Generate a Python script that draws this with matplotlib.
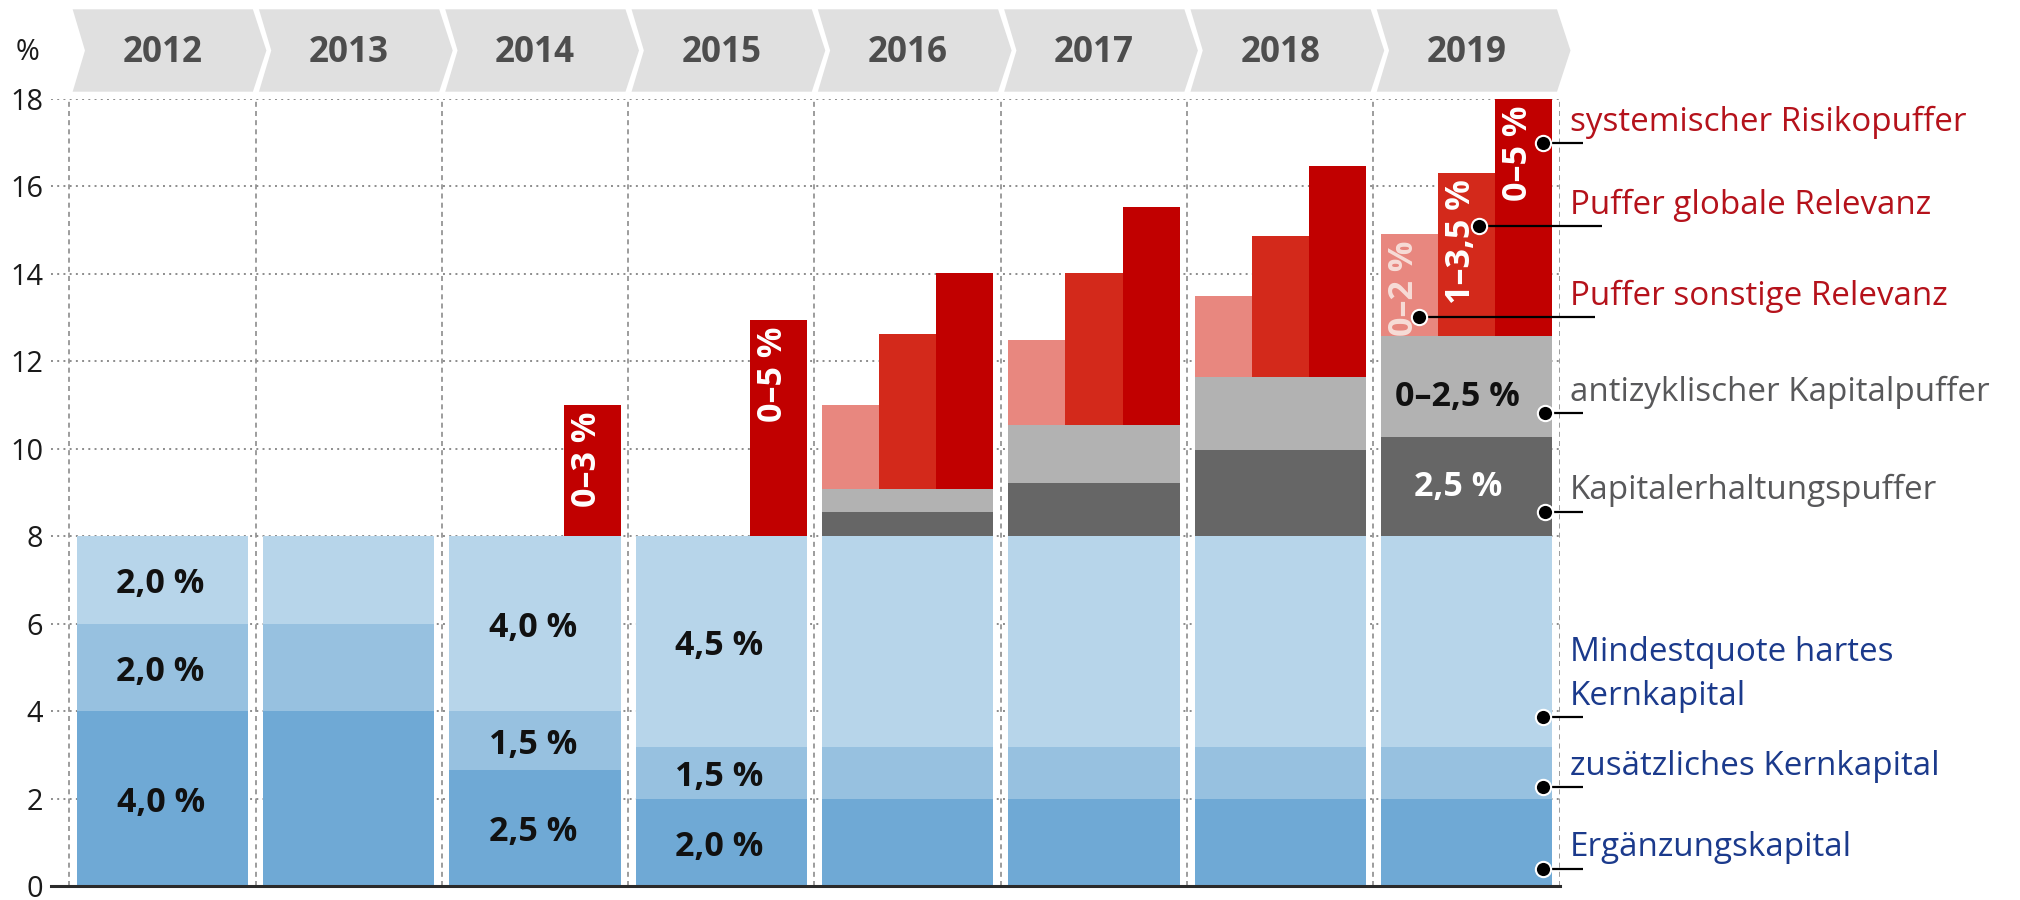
import numpy as np
import matplotlib
matplotlib.use('Agg')
import matplotlib.pyplot as plt
from matplotlib.patches import Polygon

# ---------------- data ----------------
years = ['2012', '2013', '2014', '2015', '2016', '2017', '2018', '2019']
ergaenzung = [4.0, 4.0, 2.65, 2.0, 2.0, 2.0, 2.0, 2.0]
zusaetzlich = [2.0, 2.0, 1.35, 1.17, 1.17, 1.17, 1.17, 1.17]
mindest = [2.0, 2.0, 4.0, 4.83, 4.83, 4.83, 4.83, 4.83]
kapitalerhaltung = [0, 0, 0, 0, 0.55, 1.21, 1.98, 2.28]
antizyklisch = [0, 0, 0, 0, 0.54, 1.33, 1.66, 2.31]
sonstige = [0, 0, 0, 0, 1.91, 1.94, 1.85, 2.33]
globale = [0, 0, 0, 0, 3.53, 3.48, 3.22, 3.72]
systemisch = [0, 0, 3.0, 4.95, 4.94, 4.98, 4.82, 5.41]

lbl_erg = ['4,0 %', '', '2,5 %', '2,0 %', '', '', '', '']
lbl_zus = ['2,0 %', '', '1,5 %', '1,5 %', '', '', '', '']
lbl_min = ['2,0 %', '', '4,0 %', '4,5 %', '', '', '', '']
lbl_kap = ['', '', '', '', '', '', '', '2,5 %']
lbl_anti = ['', '', '', '', '', '', '', '0–2,5 %']
lbl_sonst = ['', '', '', '', '', '', '', '0–2 %']
lbl_glob = ['', '', '', '', '', '', '', '1–3,5 %']
lbl_sys = ['', '', '0–3 %', '0–5 %', '', '', '', '0–5 %']

series_names = ['systemischer Risikopuffer', 'Puffer globale Relevanz',
                'Puffer sonstige Relevanz', 'antizyklischer Kapitalpuffer',
                'Kapitalerhaltungspuffer', 'Mindestquote hartes\nKernkapital',
                'zusätzliches Kernkapital', 'Ergänzungskapital']
yticks = [0, 2, 4, 6, 8, 10, 12, 14, 16, 18]

# ---------------- style ----------------
plt.rcParams['font.family'] = ['Open Sans', 'DejaVu Sans']
C_ERG, C_ZUS, C_MIN = '#6fa9d5', '#97c1e0', '#b7d5ea'
C_KAP, C_ANTI = '#666666', '#b2b2b2'
C_SONST, C_GLOB, C_SYS = '#e8877f', '#d3291b', '#c10000'
RED_T, GRAY_T, BLUE_T = '#b5121b', '#58585a', '#1b3a8c'

W, H = 2020, 900
fig = plt.figure(figsize=(W / 100, H / 100), dpi=100)
X0, X1, Y0, Y1 = 50.7, 1559.7, 886.0, 99.0
SLOT = (X1 - 69.3) / 8.0
ax = fig.add_axes([X0 / W, 1 - Y0 / H, (X1 - X0) / W, (Y0 - Y1) / H])
ax.set_xlim(-(69.3 - X0) / SLOT, 8)
ax.set_ylim(0, 18)
PXY = (Y0 - Y1) / 18.0  # px per data unit (y)

renderer = fig.canvas.get_renderer()


def fit(text, target, **kw):
    t = fig.text(0, 0, text, fontsize=20, **kw)
    w = t.get_window_extent(renderer).width
    t.remove()
    return 20.0 * target / w


FS_YEAR = fit('2012', 80, weight='bold')
FS_BAR = fit('4,0 %', 88, weight='bold')
FS_RIGHT = fit('systemischer Risikopuffer', 395)
FS_TICK = fit('18', 33)

# grid
ax.set_yticks(yticks)
ax.set_xticks(range(9))
ax.yaxis.grid(True, linestyle=(0, (1.0, 2.2)), color='#8c8c8c', lw=1.4)
ax.xaxis.grid(True, linestyle=(0, (3, 2.5)), color='#8c8c8c', lw=1.2)
ax.set_axisbelow(True)
ax.tick_params(axis='x', length=0, labelbottom=False)
ax.tick_params(axis='y', length=0, pad=5.5, labelsize=FS_TICK, labelcolor='#1a1a1a')
for s in ['top', 'left', 'right']:
    ax.spines[s].set_visible(False)
ax.spines['bottom'].set_color('#2b2b2b')
ax.spines['bottom'].set_linewidth(2.2)
ax.spines['bottom'].set_zorder(5)

xc = np.arange(len(years)) + 0.5
BW = 0.92
w3 = BW / 3

erg = np.array(ergaenzung)
zus = np.array(zusaetzlich)
mnd = np.array(mindest)
kap = np.array(kapitalerhaltung)
anti = np.array(antizyklisch)
b1 = erg
b2 = erg + zus
base = b2 + mnd
b4 = base + kap
rbase = b4 + anti

kw = dict(linewidth=0, zorder=2)
ax.bar(xc, erg, width=BW, color=C_ERG, **kw)
ax.bar(xc, zus, width=BW, bottom=b1, color=C_ZUS, **kw)
ax.bar(xc, mnd, width=BW, bottom=b2, color=C_MIN, **kw)
ax.bar(xc, kap, width=BW, bottom=base, color=C_KAP, **kw)
ax.bar(xc, anti, width=BW, bottom=b4, color=C_ANTI, **kw)
ax.bar(xc - w3, sonstige, width=w3, bottom=rbase, color=C_SONST, **kw)
ax.bar(xc, globale, width=w3, bottom=rbase, color=C_GLOB, **kw)
ax.bar(xc + w3, systemisch, width=w3, bottom=rbase, color=C_SYS, **kw)

tkw = dict(fontsize=FS_BAR, weight='bold', zorder=4)
# labels in the segments
for i in range(len(years)):
    for lbl, bot, h in [(lbl_erg[i], 0, erg[i]), (lbl_zus[i], b1[i], zus[i]),
                        (lbl_min[i], b2[i], mnd[i])]:
        if lbl:
            ax.text(xc[i] - 0.01, bot + h / 2 - 0.1, lbl, ha='center', va='center',
                    color='#111111', **tkw)
    if lbl_kap[i]:
        ax.text(xc[i] - 0.045, base[i] + kap[i] / 2 - 0.02, lbl_kap[i], ha='center',
                va='center', color='white', **tkw)
    if lbl_anti[i]:
        ax.text(xc[i] - 0.05, b4[i] + anti[i] / 2 - 0.25, lbl_anti[i], ha='center',
                va='center', color='#111111', **tkw)
    for lbl, off, h, col in [(lbl_sonst[i], -w3, sonstige[i], '#f7dcd7'),
                             (lbl_glob[i], 0, globale[i], 'white'),
                             (lbl_sys[i], w3, systemisch[i], 'white')]:
        if lbl:
            ax.text(xc[i] + off - 0.03, rbase[i] + h - 0.15, lbl, rotation=90,
                    ha='center', va='top', color=col, **tkw)

# header chevrons
top = 18 + (Y1 - 9.3) / PXY
bot = 18 + (Y1 - 91.7) / PXY
mid = (top + bot) / 2
for i, yr in enumerate(years):
    x0 = i
    pts = [(x0 + 0.018, top), (x0 + 0.9855, top), (x0 + 1.058, mid),
           (x0 + 0.9855, bot), (x0 + 0.018, bot), (x0 + 0.084, mid)]
    ax.add_patch(Polygon(pts, closed=True, facecolor='#e0e0e0', edgecolor='none',
                         clip_on=False, zorder=1))
    ax.text(x0 + 0.5, 18 + (Y1 - 53.3) / PXY, yr, ha='center', va='center',
            fontsize=FS_YEAR, weight='bold', color='#4d4d4d', clip_on=False)

fig.text(28 / W, 1 - 53 / H, '%', ha='center', va='center', fontsize=FS_TICK,
         color='#1a1a1a')

# right-hand labels with leader lines (dot x, dot y, line end x)
anno = [(7.912, 16.99, 8.125), (7.567, 15.10, 8.227), (7.245, 13.01, 8.19),
        (7.92, 10.81, 8.125), (7.92, 8.56, 8.125), (7.91, 3.87, 8.125),
        (7.91, 2.27, 8.125), (7.91, 0.40, 8.125)]
colors = [RED_T, RED_T, RED_T, GRAY_T, GRAY_T, BLUE_T, BLUE_T, BLUE_T]
TX = (1570 - 69.3) / SLOT
for name, (dx, dy, ex), col in zip(series_names, anno, colors):
    ax.plot([dx, ex], [dy, dy], color='black', lw=1.6, clip_on=False, zorder=6,
            solid_capstyle='butt')
    ax.plot([dx], [dy], 'o', ms=11, mfc='black', mec='white', mew=1.5,
            clip_on=False, zorder=7)
    lines = name.split('\n')
    for k, ln in enumerate(lines):
        yb = dy + 0.28 + (len(lines) - 1 - k) * (43.3 / PXY)
        ax.text(TX, yb, ln, ha='left', va='baseline', fontsize=FS_RIGHT, color=col,
                clip_on=False)

fig.savefig('out.png', dpi=100)
